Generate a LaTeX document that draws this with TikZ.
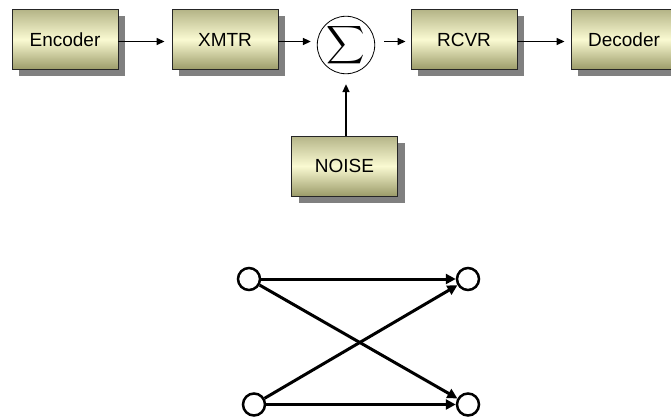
\documentclass[tikz,border=0pt]{standalone}
\usepackage{fontspec}
\usepackage{graphicx}
\setmainfont{Liberation Sans}
\usetikzlibrary{arrows.meta,calc,shadows}
\definecolor{boxtop}{RGB}{180,180,135}
\definecolor{boxmid}{RGB}{250,250,210}
\definecolor{boxbot}{RGB}{155,155,105}
\begin{document}
\begin{tikzpicture}[x=1pt,y=-1pt,
  blk/.style={draw=black!85,line width=0.9pt,minimum width=106pt,minimum height=60pt,
    inner sep=0pt,top color=boxtop,bottom color=boxbot,middle color=boxmid,
    drop shadow={shadow xshift=7pt,shadow yshift=-7pt,fill=black!50,opacity=1},
    font=\fontsize{19}{22}\selectfont},
  sig/.style={draw,circle,line width=0.8pt,minimum size=45pt,inner sep=0pt},
  tarr/.style={line width=1.6pt,-{Triangle[length=8pt,width=7pt]}},
  st/.style={draw,circle,line width=2.5pt,minimum size=22pt,inner sep=0pt},
  barr/.style={line width=3pt,-{Triangle[length=10pt,width=10pt]}}]
\useasboundingbox (0,0) rectangle (671,417);
\node[blk] (enc) at (65,39.5) {Encoder};
\node[blk] (xm) at (225,39.5) {XMTR};
\node[sig] (s) at (346,45) {\resizebox{!}{28pt}{$\displaystyle\sum$}};
\node[blk] (rc) at (464,39.5) {RCVR};
\node[blk] (dec) at (624,39.5) {Decoder};
\node[blk] (no) at (344.5,166) {NOISE};
\coordinate (a1) at ($(enc.east)+(0,2)$);
\coordinate (a2) at ($(xm.west)+(0,2)$);
\coordinate (a3) at ($(xm.east)+(0,2)$);
\coordinate (a4) at ($(rc.west)+(0,2)$);
\coordinate (a5) at ($(rc.east)+(0,2)$);
\coordinate (a6) at ($(dec.west)+(0,2)$);
\draw[tarr,shorten >=7pt] (a1) -- (a2);
\draw[tarr,shorten >=6pt] (a3) -- (a3 -| s.west);
\draw[tarr,shorten <=9pt,shorten >=5pt] (a4 -| s.east) -- (a4);
\draw[tarr,shorten >=6pt] (a5) -- (a6);
\draw[tarr,shorten >=10pt] (no.north -| s.south) -- (s.south);
\node[st] (tl) at (249,279) {};
\node[st] (tr) at (468,279) {};
\node[st] (bl) at (254,404.5) {};
\node[st] (br) at (468,404.5) {};
\draw[barr] (tl) -- (tr);
\draw[barr] (bl) -- (br);
\draw[barr] (tl) -- (br);
\draw[barr] (bl) -- (tr);
\end{tikzpicture}
\end{document}
